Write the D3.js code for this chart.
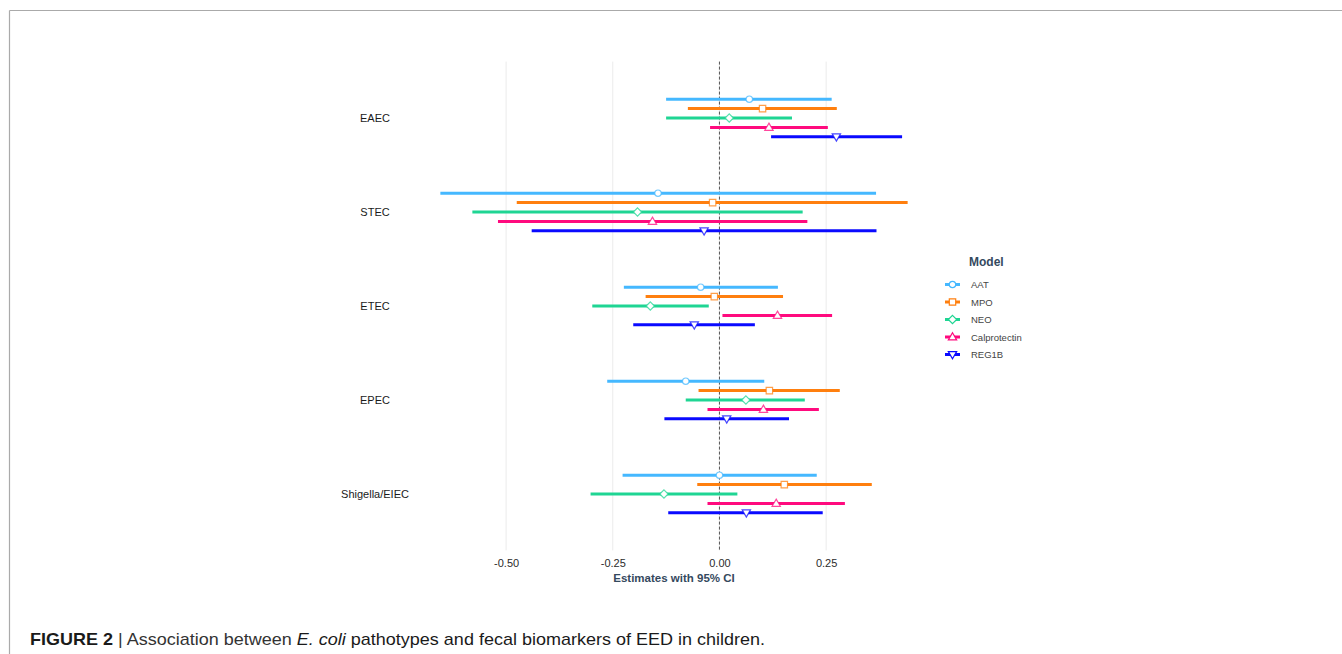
<!DOCTYPE html>
<html>
<head>
<meta charset="utf-8">
<script src="https://cdn.jsdelivr.net/npm/d3@7"></script>
<style>
  html, body { margin: 0; padding: 0; background: #fff; }
  svg { display: block; }
</style>
</head>
<body>
<svg id="chart" width="1342" height="654"></svg>
<script>
// ---- Data ----
const pathotypes = ["EAEC", "STEC", "ETEC", "EPEC", "Shigella/EIEC"];
const models = ["AAT", "MPO", "NEO", "Calprotectin", "REG1B"];
const modelColors = ["#45b8ff", "#ff7f0e", "#1fd593", "#ff0a7e", "#0a0aff"];
const modelShapes = ["circle", "square", "diamond", "triUp", "triDown"];

// estimate, lower CI, upper CI per pathotype (rows) per model (cols)
const estimates = [
  [0.070, 0.101, 0.023, 0.116, 0.274],
  [-0.144, -0.016, -0.192, -0.157, -0.036],
  [-0.044, -0.012, -0.162, 0.136, -0.059],
  [-0.079, 0.117, 0.062, 0.103, 0.017],
  [0.000, 0.152, -0.130, 0.133, 0.063]
];
const lowerCI = [
  [-0.125, -0.074, -0.125, -0.022, 0.121],
  [-0.654, -0.475, -0.579, -0.519, -0.440],
  [-0.224, -0.173, -0.298, 0.007, -0.202],
  [-0.263, -0.049, -0.079, -0.028, -0.129],
  [-0.227, -0.052, -0.302, -0.028, -0.120]
];
const upperCI = [
  [0.263, 0.275, 0.170, 0.254, 0.428],
  [0.367, 0.441, 0.195, 0.206, 0.368],
  [0.137, 0.149, -0.025, 0.264, 0.083],
  [0.105, 0.282, 0.200, 0.233, 0.163],
  [0.228, 0.357, 0.042, 0.294, 0.242]
];
const xTicks = [-0.5, -0.25, 0, 0.25];
const xTickLabels = ["-0.50", "-0.25", "0.00", "0.25"];
const xTitle = "Estimates with 95% CI";
const legendTitle = "Model";

// ---- Build rows ----
const rows = [];
pathotypes.forEach((p, i) => models.forEach((m, j) => {
  rows.push({ pathotype: p, model: m, est: estimates[i][j], lo: lowerCI[i][j], hi: upperCI[i][j] });
}));

const svg = d3.select("#chart");

// frame lines
svg.append("line").attr("x1", 9.5).attr("x2", 1342).attr("y1", 10.5).attr("y2", 10.5)
  .attr("stroke", "#aaaaaa").attr("stroke-width", 1.2);
svg.append("line").attr("x1", 9.5).attr("x2", 9.5).attr("y1", 10.5).attr("y2", 654)
  .attr("stroke", "#aaaaaa").attr("stroke-width", 1.2);

// panel
const panel = { left: 417, right: 931, top: 61.6, bottom: 550.4 };
const lo = d3.min(lowerCI.flat()), hi = d3.max(upperCI.flat());
const pad = (hi - lo) * 0.05;
const x = d3.scaleLinear().domain([lo - pad, hi + pad]).range([panel.left, panel.right]);
const y = d3.scalePoint().domain(pathotypes).range([panel.top, panel.bottom]).padding(0.6);
const dodge = d3.scalePoint().domain(models).range([-18.8, 18.8]);
const color = d3.scaleOrdinal().domain(models).range(modelColors);
const shape = d3.scaleOrdinal().domain(models).range(modelShapes);

// grid
svg.append("g").selectAll("line").data(xTicks).join("line")
  .attr("x1", d => x(d)).attr("x2", d => x(d))
  .attr("y1", panel.top).attr("y2", panel.bottom)
  .attr("stroke", "#ebebeb").attr("stroke-width", 1);

// zero line
svg.append("line").attr("x1", x(0)).attr("x2", x(0))
  .attr("y1", panel.top).attr("y2", panel.bottom)
  .attr("stroke", "#555").attr("stroke-width", 1).attr("stroke-dasharray", "3,2");

// x axis
const xAxis = svg.append("g").attr("transform", `translate(0,${panel.bottom})`)
  .call(d3.axisBottom(x).tickValues(xTicks).tickFormat((d, i) => xTickLabels[i]).tickSize(0).tickPadding(9));
xAxis.select(".domain").remove();
xAxis.selectAll("text").attr("font-family", "Liberation Sans, Arial, sans-serif")
  .attr("font-size", "11px").attr("fill", "#2b2b2b");

// y axis labels
const yAxis = svg.append("g").attr("transform", `translate(375,0)`)
  .call(d3.axisLeft(y).tickSize(0).tickPadding(0));
yAxis.select(".domain").remove();
yAxis.selectAll("text").attr("text-anchor", "middle")
  .attr("font-family", "Liberation Sans, Arial, sans-serif")
  .attr("font-size", "11px").attr("fill", "#1a1a1a");

// axis title
svg.append("text").attr("x", (panel.left + panel.right) / 2).attr("y", 582)
  .attr("text-anchor", "middle").attr("font-family", "Liberation Sans, Arial, sans-serif")
  .attr("font-size", "11.5px").attr("font-weight", "bold").attr("fill", "#34495e").text(xTitle);

// symbol path generator
function symbolPath(s, r) {
  switch (s) {
    case "circle": return d3.symbol(d3.symbolCircle, Math.PI * r * r)();
    case "square": return `M${-r},${-r}H${r}V${r}H${-r}Z`;
    case "diamond": return `M0,${-r * 1.3}L${r * 1.3},0L0,${r * 1.3}L${-r * 1.3},0Z`;
    case "triUp": return `M0,${-r * 1.35}L${r * 1.3},${r * 0.9}L${-r * 1.3},${r * 0.9}Z`;
    case "triDown": return `M0,${r * 1.35}L${r * 1.3},${-r * 0.9}L${-r * 1.3},${-r * 0.9}Z`;
  }
}

// CI bars
const g = svg.append("g");
g.selectAll("line.ci").data(rows).join("line").attr("class", "ci")
  .attr("x1", d => x(d.lo)).attr("x2", d => x(d.hi))
  .attr("y1", d => y(d.pathotype) + dodge(d.model))
  .attr("y2", d => y(d.pathotype) + dodge(d.model))
  .attr("stroke", d => color(d.model)).attr("stroke-width", 3);

// points
g.selectAll("path.pt").data(rows).join("path").attr("class", "pt")
  .attr("transform", d => `translate(${x(d.est)},${y(d.pathotype) + dodge(d.model)})`)
  .attr("d", d => symbolPath(shape(d.model), 3.2))
  .attr("fill", "#fff").attr("stroke", d => color(d.model)).attr("stroke-width", 1.2)
  .attr("stroke-opacity", 0.75);

// legend
const lg = svg.append("g").attr("transform", "translate(945,0)");
lg.append("text").attr("x", 24).attr("y", 266)
  .attr("font-family", "Liberation Sans, Arial, sans-serif").attr("font-size", "12px")
  .attr("font-weight", "bold").attr("fill", "#34495e").text(legendTitle);
const items = lg.selectAll("g.item").data(models).join("g").attr("class", "item")
  .attr("transform", (d, i) => `translate(0,${284.5 + i * 17.5})`);
items.append("line").attr("x1", 0).attr("x2", 15).attr("y1", 0).attr("y2", 0)
  .attr("stroke", d => color(d)).attr("stroke-width", 3);
items.append("path").attr("transform", "translate(7.5,0)")
  .attr("d", d => symbolPath(shape(d), 3.2))
  .attr("fill", "#fff").attr("stroke", d => color(d)).attr("stroke-width", 1.2);
items.append("text").attr("x", 26).attr("y", 3.5)
  .attr("font-family", "Liberation Sans, Arial, sans-serif").attr("font-size", "9.5px")
  .attr("fill", "#444").text(d => d);

// caption
const cap = svg.append("text").attr("x", 30).attr("y", 645)
  .attr("font-family", "Liberation Sans Narrow, Arial Narrow, Liberation Sans, sans-serif")
  .attr("font-size", "17px").attr("fill", "#1a1a1a")
  .attr("textLength", 735).attr("lengthAdjust", "spacingAndGlyphs");
cap.append("tspan").attr("font-weight", "bold").text("FIGURE 2");
cap.append("tspan").attr("fill", "#333").text(" | Association between ");
cap.append("tspan").attr("font-style", "italic").text("E. coli");
cap.append("tspan").text(" pathotypes and fecal biomarkers of EED in children.");
</script>
</body>
</html>
